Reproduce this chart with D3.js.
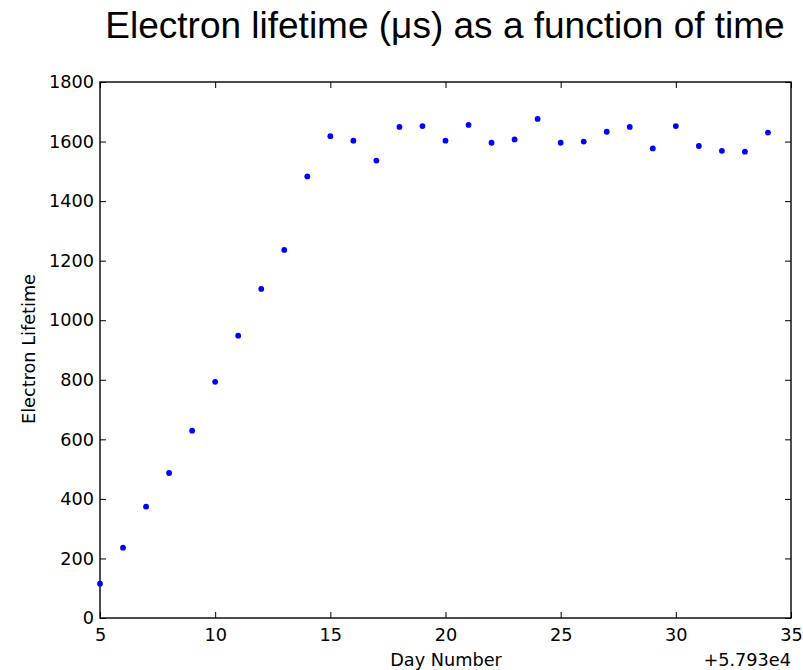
<!DOCTYPE html>
<html>
<head>
<meta charset="utf-8">
<script src="https://cdn.jsdelivr.net/npm/d3@7"></script>
<style>
  body { margin: 0; background: #fff; }
  text { fill: #000; }
</style>
</head>
<body>
<div id="app"></div>
<script>
// data (day offset from 57930)
let days = [5, 6, 7, 8, 9, 10, 11, 12, 13, 14, 15, 16, 17, 18, 19, 20, 21, 22, 23, 24, 25, 26, 27, 28, 29, 30, 31, 32, 33, 34]
let lifetimes = [115, 236, 374, 487, 629, 793, 948, 1105, 1236, 1483, 1618, 1603, 1536, 1649, 1652, 1603, 1656, 1596, 1607, 1676, 1596, 1600, 1633, 1649, 1577, 1652, 1585, 1569, 1566, 1630]
let xTicks = [5, 10, 15, 20, 25, 30, 35]
let yTicks = [0, 200, 400, 600, 800, 1000, 1200, 1400, 1600, 1800]

let width = 803, height = 670
let plotLeft = 100, plotRight = 791, plotTop = 82, plotBottom = 618

let svg = d3.select("#app").append("svg")
    .attr("width", width)
    .attr("height", height)

let x = d3.scaleLinear().domain([5, 35]).range([plotLeft, plotRight])
let y = d3.scaleLinear().domain([0, 1800]).range([plotBottom, plotTop])

let tickFont = "'DejaVu Sans', sans-serif"
let fontSize = 17.7

// inward ticks on all four sides, like matplotlib
function styleAxis(g) {
    g.select(".domain").remove()
    g.selectAll("line").attr("stroke", "#000").attr("stroke-width", 1)
    g.selectAll("text").attr("font-family", tickFont).attr("font-size", fontSize).attr("fill", "#000")
}

svg.append("g")
    .attr("transform", `translate(0,${plotBottom})`)
    .call(d3.axisBottom(x).tickValues(xTicks).tickSizeInner(-6).tickSizeOuter(0).tickPadding(10).tickFormat(d3.format("d")))
    .call(styleAxis)

svg.append("g")
    .attr("transform", `translate(0,${plotTop})`)
    .call(d3.axisTop(x).tickValues(xTicks).tickSizeInner(-6).tickSizeOuter(0).tickFormat(""))
    .call(styleAxis)

svg.append("g")
    .attr("transform", `translate(${plotLeft},0)`)
    .call(d3.axisLeft(y).tickValues(yTicks).tickSizeInner(-6).tickSizeOuter(0).tickPadding(6).tickFormat(d3.format("d")))
    .call(styleAxis)

svg.append("g")
    .attr("transform", `translate(${plotRight},0)`)
    .call(d3.axisRight(y).tickValues(yTicks).tickSizeInner(-6).tickSizeOuter(0).tickFormat(""))
    .call(styleAxis)

svg.append("rect")
    .attr("x", plotLeft)
    .attr("y", plotTop)
    .attr("width", plotRight - plotLeft)
    .attr("height", plotBottom - plotTop)
    .attr("fill", "none")
    .attr("stroke", "#000")
    .attr("stroke-width", 1.4)

// points
svg.append("g")
    .selectAll("circle")
    .data(days.map((d, i) => ({day: d, v: lifetimes[i]})))
    .enter().append("circle")
    .attr("cx", d => x(d.day))
    .attr("cy", d => y(d.v))
    .attr("r", 2.9)
    .attr("fill", "#0000ff")

// labels
svg.append("text")
    .attr("x", 445)
    .attr("y", 38)
    .attr("text-anchor", "middle")
    .attr("font-family", "'Liberation Sans', Arial, sans-serif")
    .attr("font-size", 37)
    .text("Electron lifetime (μs) as a function of time")

svg.append("text")
    .attr("x", 446)
    .attr("y", 666)
    .attr("text-anchor", "middle")
    .attr("font-family", tickFont)
    .attr("font-size", fontSize)
    .text("Day Number")

svg.append("text")
    .attr("transform", "translate(35,349) rotate(-90)")
    .attr("text-anchor", "middle")
    .attr("font-family", tickFont)
    .attr("font-size", fontSize)
    .text("Electron Lifetime")

svg.append("text")
    .attr("x", 791)
    .attr("y", 666)
    .attr("text-anchor", "end")
    .attr("font-family", tickFont)
    .attr("font-size", fontSize)
    .text("+5.793e4")
</script>
</body>
</html>
